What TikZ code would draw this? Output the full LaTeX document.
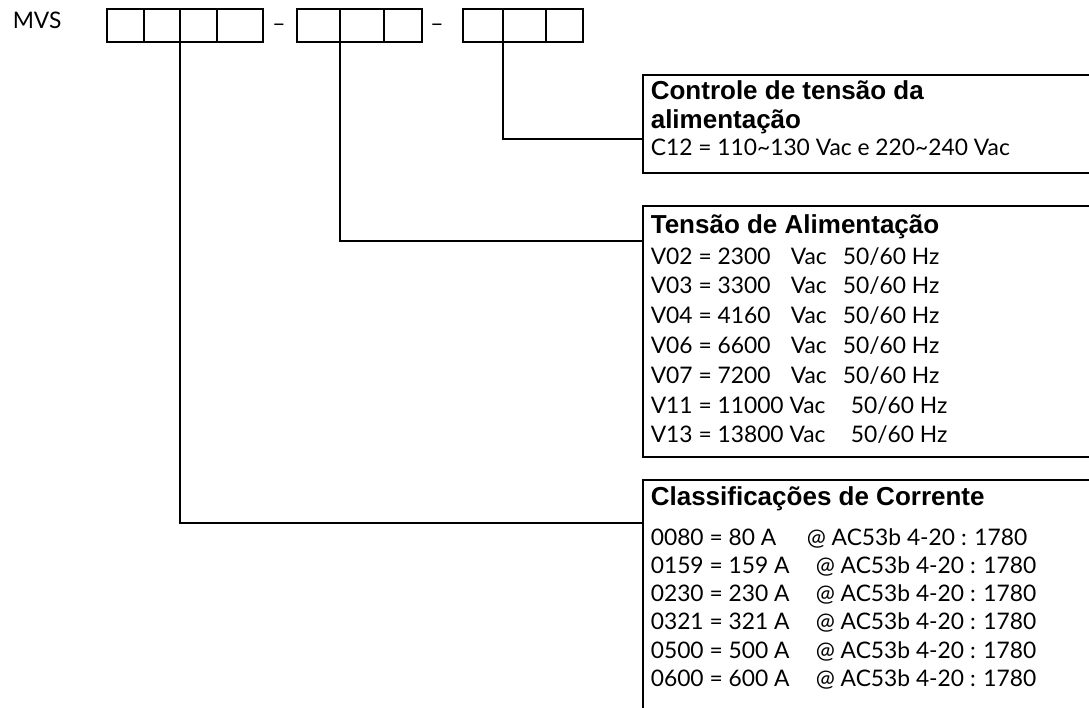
\documentclass[tikz,border=0pt]{standalone}
\usepackage{fontspec}
\setmainfont{Lato}
\newfontfamily\hdfont{Liberation Sans}
\usetikzlibrary{calc}
\begin{document}
\begin{tikzpicture}[x=1pt,y=-1pt,line width=1.6pt,
  cell/.style={draw, minimum height=33pt, inner sep=0pt, outer sep=0pt, anchor=north west},
  panel/.style={draw, anchor=north west, inner sep=0pt, outer sep=0pt, minimum width=470pt},
  hd/.style={anchor=base west, inner sep=0pt, font=\hdfont\bfseries\fontsize{26}{30}\selectfont},
  bd/.style={anchor=base west, inner sep=0pt, font=\fontsize{22.8}{27}\selectfont},
  conn/.style={line width=1.6pt}]
\useasboundingbox (0,0) rectangle (1089,707);
\clip (0,0) rectangle (1089,707);

\node[bd] (mvs) at (12,28) {MVS};

% group 1
\node[cell, minimum width=37pt] (a1) at (107,9) {};
\node[cell, minimum width=36pt] (a2) at (144,9) {};
\node[cell, minimum width=37pt] (a3) at (180,9) {};
\node[cell, minimum width=46pt] (a4) at (217,9) {};
\node[bd, anchor=base] (d1) at (279,31) {–};
% group 2
\node[cell, minimum width=43pt] (b1) at (297,9) {};
\node[cell, minimum width=44pt] (b2) at (340,9) {};
\node[cell, minimum width=38pt] (b3) at (384,9) {};
\node[bd, anchor=base] (d2) at (437,31) {–};
% group 3
\node[cell, minimum width=40pt] (c1) at (463,9) {};
\node[cell, minimum width=43pt] (c2) at (503,9) {};
\node[cell, minimum width=37pt] (c3) at (546,9) {};

% panels
\node[panel, minimum height=98pt] (p1) at (643,75) {};
\node[panel, minimum height=251pt] (p2) at (643,206) {};
\node[panel, minimum height=260pt] (p3) at (643,480) {};

\coordinate (e1) at ($(p1.north west)+(0,64)$);
\coordinate (e2) at ($(p2.north west)+(0,35)$);
\coordinate (e3) at ($(p3.north west)+(0,43)$);

\draw[conn] (c1.south east) |- (e1);
\draw[conn] (b1.south east) |- (e2);
\draw[conn] (a2.south east) |- (e3);

% panel 1 text
\node[hd] (h1a) at (650,99) {Controle de tensão da};
\node[hd] (h1b) at (650,128) {alimentação};
\node[bd] (t1) at (650,155) {C12 = 110\textasciitilde130 Vac e 220\textasciitilde240 Vac};

% panel 2 text
\node[hd] (h2) at (650,233) {Tensão de Alimentação};
\node[bd] (v1) at (650,264) {\makebox[140pt][l]{V02 = 2300}\makebox[52pt][l]{Vac}50/60 Hz};
\node[bd] (v2) at (650,293.8) {\makebox[140pt][l]{V03 = 3300}\makebox[52pt][l]{Vac}50/60 Hz};
\node[bd] (v3) at (650,323.6) {\makebox[140pt][l]{V04 = 4160}\makebox[52pt][l]{Vac}50/60 Hz};
\node[bd] (v4) at (650,353.4) {\makebox[140pt][l]{V06 = 6600}\makebox[52pt][l]{Vac}50/60 Hz};
\node[bd] (v5) at (650,383.2) {\makebox[140pt][l]{V07 = 7200}\makebox[52pt][l]{Vac}50/60 Hz};
\node[bd] (v6) at (650,413) {\makebox[200pt][l]{V11 = 11000 Vac}50/60 Hz};
\node[bd] (v7) at (650,442.8) {\makebox[200pt][l]{V13 = 13800 Vac}50/60 Hz};

% panel 3 text
\node[hd] (h3) at (650,505) {Classificações de Corrente};
\node[bd] (r1) at (650,545) {\makebox[156pt][l]{0080 = 80 A}@ AC53b 4-20 : 1780};
\node[bd] (r2) at (650,573.3) {\makebox[165pt][l]{0159 = 159 A}@ AC53b 4-20 : 1780};
\node[bd] (r3) at (650,601.6) {\makebox[165pt][l]{0230 = 230 A}@ AC53b 4-20 : 1780};
\node[bd] (r4) at (650,629.9) {\makebox[165pt][l]{0321 = 321 A}@ AC53b 4-20 : 1780};
\node[bd] (r5) at (650,658.2) {\makebox[165pt][l]{0500 = 500 A}@ AC53b 4-20 : 1780};
\node[bd] (r6) at (650,686.5) {\makebox[165pt][l]{0600 = 600 A}@ AC53b 4-20 : 1780};
\end{tikzpicture}
\end{document}
